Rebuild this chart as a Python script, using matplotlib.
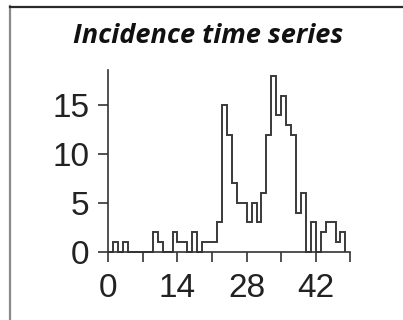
import matplotlib
matplotlib.use('Agg')
import matplotlib.pyplot as plt
from matplotlib.lines import Line2D
import numpy as np

""" Data read off the picture """
# daily case counts, day 0 .. day 47
counts = [0, 1, 0, 1, 0, 0, 0, 0, 0, 2,
          1, 0, 0, 2, 1, 1, 0, 2, 0, 1,
          1, 1, 3, 15, 12, 7, 5, 5, 3, 5,
          3, 6, 12, 18, 14, 16, 13, 12, 4, 6,
          0, 3, 0, 2, 3, 3, 1, 2]
xticks = [0, 7, 14, 21, 28, 35, 42, 49]
xticklabels = ['0', '', '14', '', '28', '', '42', '']
yticks = [0, 5, 10, 15]
yticklabels = ['0', '5', '10', '15']
title = 'Incidence time series'

W, H = 403, 320
fig = plt.figure(figsize=(W / 100, H / 100), dpi=100)

# axes placed in pixels: x=0 at 108px, 4.94 px/day ; y=0 at 251.7px, 9.75 px/case
x0, y0, px_day, px_case = 108.3, 251.7, 4.94, 9.75
ax = fig.add_axes([x0 / W, (H - y0) / H, 50 * px_day / W, 19 * px_case / H])
ax.set_xlim(0, 50)
ax.set_ylim(0, 19)

edges = np.arange(len(counts) + 1)
ax.stairs(counts, edges, color='#3a3a3a', lw=1.4, clip_on=False)

for s in ['top', 'right']:
    ax.spines[s].set_visible(False)
ax.spines['left'].set_bounds(0, 18.6)
ax.spines['bottom'].set_bounds(0, 49)
for s in ['left', 'bottom']:
    ax.spines[s].set_color('#333333')
    ax.spines[s].set_linewidth(1.2)

ax.set_xticks(xticks)
ax.set_xticklabels(xticklabels)
ax.set_yticks(yticks)
ax.set_yticklabels(yticklabels)
ax.tick_params(direction='out', length=7.2, width=1.2, color='#333333',
               labelsize=24, labelcolor='#222222')
ax.tick_params(axis='x', pad=8)
ax.tick_params(axis='y', pad=6.5)
for lab in ax.get_xticklabels() + ax.get_yticklabels():
    lab.set_family('Liberation Sans')

fig.text(208.5 / W, (H - 43) / H, title, ha='center', va='baseline',
         family='Open Sans', fontstyle='italic', fontweight='bold', fontsize=19.5,
         color='#111111')

# panel frame: gray left edge, dark top edge
fig.add_artist(Line2D([10 / W, 10 / W], [0, 1 - 6 / H], transform=fig.transFigure,
                      color='#8a8a8a', lw=1.6))
fig.add_artist(Line2D([10 / W, 1], [1 - 6.5 / H, 1 - 6.5 / H], transform=fig.transFigure,
                      color='#2a2a2a', lw=1.6))

plt.savefig('out.png', dpi=100)
